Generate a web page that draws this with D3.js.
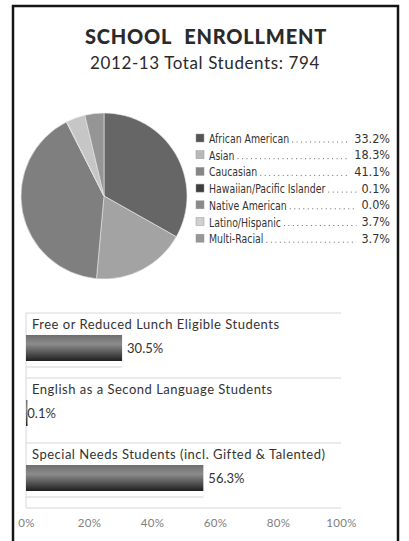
<!DOCTYPE html>
<html>
<head>
<meta charset="utf-8">
<script src="https://cdn.jsdelivr.net/npm/d3@7"></script>
<style>
body{margin:0;background:#fff;}
svg{display:block;}
.title{font-family:Lato,"Open Sans",sans-serif;font-weight:900;}
.sub{font-family:Lato,"Open Sans",sans-serif;}
.leg{font-family:"DejaVu Sans Condensed","Liberation Sans Narrow","Roboto Condensed","DejaVu Sans",sans-serif;font-stretch:condensed;}
.bl{font-family:Lato,"Open Sans",sans-serif;}
</style>
</head>
<body>
<div id="canvas"></div>
<script>
// pie data
var groups = ['African American','Asian','Caucasian','Hawaiian/Pacific Islander','Native American','Latino/Hispanic','Multi-Racial'];
var shares = [33.2,18.3,41.1,0.1,0.0,3.7,3.7];
var pieColors = ['#666666','#a3a3a3','#7f7f7f','#4a4a4a','#8a8a8a','#c6c6c6','#959595'];
var legColors = ['#555555','#b8b8b8','#858585','#3d3d3d','#8a8a8a','#d0d0d0','#969696'];

// bar data
var programs = ['Free or Reduced Lunch Eligible Students','English as a Second Language Students','Special Needs Students (incl. Gifted & Talented)'];
var pcts = [30.5,0.1,56.3];
var ticks = [0,20,40,60,80,100];

var W = 409, H = 541;
var svg = d3.select('#canvas').append('svg').attr('width',W).attr('height',H);

// frame
svg.append('rect').attr('x',13).attr('y',6).attr('width',385).attr('height',600)
  .attr('fill','#fff').attr('stroke','#151515').attr('stroke-width',2.5);

svg.append('text').attr('class','title').attr('x',206).attr('y',44)
  .attr('text-anchor','middle').attr('font-size',20).attr('fill','#2a2a2a')
  .attr('letter-spacing',0.8).attr('word-spacing',7).text('SCHOOL ENROLLMENT');
svg.append('text').attr('class','sub').attr('x',205).attr('y',69)
  .attr('text-anchor','middle').attr('font-size',17).attr('fill','#2a2a2a')
  .attr('letter-spacing',0.6).text('2012-13 Total Students: 794');

// pie
var pie = d3.pie().sort(null).value(function(d){return d;});
var arc = d3.arc().innerRadius(0).outerRadius(83);
var pg = svg.append('g').attr('transform','translate(104,196)');
pg.selectAll('path').data(pie(shares)).enter().append('path')
  .attr('d',arc)
  .attr('fill',function(d,i){return pieColors[i];})
  .attr('stroke','#e8e8e8').attr('stroke-width',0.6);

// legend
var lg = svg.append('g').attr('class','leg');
var row = lg.selectAll('g').data(groups).enter().append('g')
  .attr('transform',function(d,i){return 'translate(196,'+(138+i*16.7)+')';});
row.append('rect').attr('x',0).attr('y',-4).attr('width',8).attr('height',8)
  .attr('fill',function(d,i){return legColors[i];})
  .attr('stroke','#999').attr('stroke-width',0.5);
row.append('text').attr('class','name').attr('x',13).attr('y',5)
  .attr('font-size',13).attr('fill','#333').text(function(d){return d;})
  .each(function(){
    // squeeze to a condensed look
    var t = d3.select(this), w = this.getComputedTextLength();
    t.attr('textLength',w*0.8).attr('lengthAdjust','spacingAndGlyphs');
  });
row.append('text').attr('class','val').attr('x',194).attr('y',4.5)
  .attr('text-anchor','end').attr('font-size',12.5).attr('fill','#333')
  .text(function(d,i){return shares[i].toFixed(1)+'%';});
row.each(function(){
  var g = d3.select(this);
  var x0 = 13 + (+g.select('.name').attr('textLength')) + 3;
  var x1 = 194 - g.select('.val').node().getComputedTextLength() - 5;
  g.append('line').attr('x1',x0).attr('x2',x1).attr('y1',4).attr('y2',4)
    .attr('stroke','#666').attr('stroke-width',1).attr('stroke-dasharray','1,3.5');
});

// bars
var x = d3.scaleLinear().domain([0,100]).range([26,341]);
var y = d3.scaleBand().domain(programs).range([313,508]);

var defs = svg.append('defs');
var grad = defs.append('linearGradient').attr('id','barg')
  .attr('x1',0).attr('x2',0).attr('y1',0).attr('y2',1);
grad.append('stop').attr('offset','0%').attr('stop-color','#6e6e6e');
grad.append('stop').attr('offset','35%').attr('stop-color','#8c8c8c');
grad.append('stop').attr('offset','75%').attr('stop-color','#4a4a4a');
grad.append('stop').attr('offset','100%').attr('stop-color','#1e1e1e');

var bars = svg.append('g');
// grid lines at band edges
bars.selectAll('.grid').data(programs).enter().append('line')
  .attr('x1',x(0)).attr('x2',x(100))
  .attr('y1',function(d){return y(d);}).attr('y2',function(d){return y(d);})
  .attr('stroke','#d8d8d8').attr('stroke-width',1.2);
bars.append('line').attr('x1',x(0)).attr('x2',x(100)).attr('y1',508).attr('y2',508)
  .attr('stroke','#d8d8d8').attr('stroke-width',1.2);
bars.append('line').attr('x1',x(0)).attr('x2',x(0)).attr('y1',313).attr('y2',508)
  .attr('stroke','#d8d8d8').attr('stroke-width',1);

var b = bars.selectAll('.bar').data(programs).enter().append('g');
b.append('rect')
  .attr('x',x(0)).attr('y',function(d){return y(d)+22;})
  .attr('width',function(d,i){return Math.max(x(pcts[i])-x(0),1.5);})
  .attr('height',26).attr('fill','url(#barg)');
b.append('line')
  .attr('x1',x(0)).attr('x2',function(d,i){return x(pcts[i]);})
  .attr('y1',function(d){return y(d)+54;}).attr('y2',function(d){return y(d)+54;})
  .attr('stroke','#e2e2e2').attr('stroke-width',1.5);
b.append('text').attr('class','bl').attr('x',32)
  .attr('y',function(d){return y(d)+16;})
  .attr('font-size',13).attr('letter-spacing',0.5).attr('fill','#333')
  .text(function(d){return d;});
b.append('text').attr('class','bl')
  .attr('x',function(d,i){return x(pcts[i])+ (pcts[i]<1?1:5);})
  .attr('y',function(d){return y(d)+40;})
  .attr('font-size',13).attr('fill','#333')
  .text(function(d,i){return pcts[i].toFixed(1)+'%';});

// axis labels
var axisX = d3.axisBottom(x).tickValues(ticks).tickSize(0)
  .tickFormat(function(d){return d+'%';});
var ax = svg.append('g').attr('transform','translate(0,516)').call(axisX);
ax.select('.domain').remove();
ax.selectAll('text').attr('class','bl').attr('font-size',11.5).attr('letter-spacing',0.3).attr('fill','#808080');
</script>
</body>
</html>
